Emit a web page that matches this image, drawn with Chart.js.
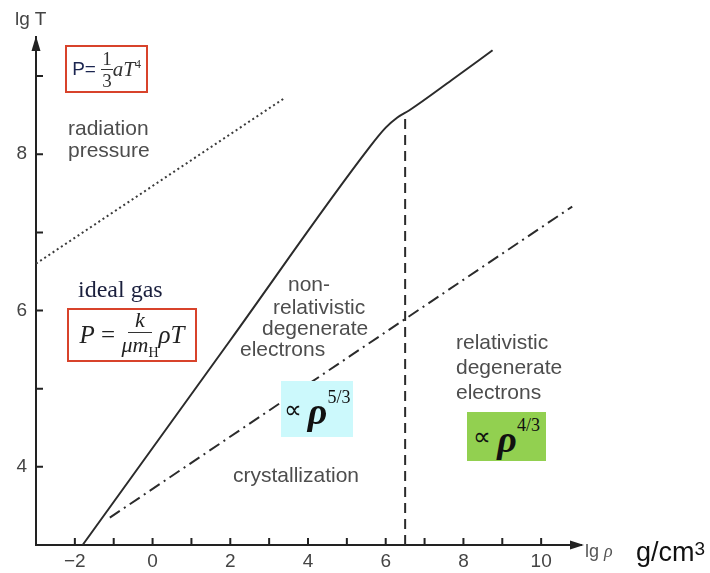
<!DOCTYPE html>
<html><head><meta charset="utf-8">
<script src="https://cdn.jsdelivr.net/npm/chart.js@4/dist/chart.umd.min.js"></script>
<style>
html,body{margin:0;padding:0;background:#fff;}
#wrap{position:relative;width:710px;height:573px;overflow:hidden;background:#fff;}
canvas{position:absolute;left:0;top:0;}
.t{position:absolute;white-space:nowrap;font-family:"Liberation Sans",Arial,sans-serif;color:#4d4d4d;font-size:21px;line-height:22px;}
.serif{font-family:"Liberation Serif","Times New Roman",serif;}
.box{position:absolute;box-sizing:border-box;border:2px solid #d8432b;display:flex;align-items:center;justify-content:center;white-space:nowrap;}
.frac{display:inline-flex;flex-direction:column;align-items:center;vertical-align:middle;line-height:1;}
.frac .num{border-bottom:1px solid #333;padding:0 1px 1px 1px;}
.frac .den{padding-top:1px;}
.fill{position:absolute;display:flex;align-items:center;justify-content:center;white-space:nowrap;font-family:"Liberation Serif","Times New Roman",serif;color:#111;}
</style></head>
<body><div id="wrap"><canvas id="c" width="710" height="573"></canvas>

<div class="t" style="left:15px;top:8px;font-size:19px;color:#444;">lg T</div>

<div class="box" style="left:65px;top:45px;width:83px;height:48px;">
  <span style="font-family:'Liberation Sans',Arial,sans-serif;font-size:19px;color:#1b2550;">P=&nbsp;</span>
  <span class="frac serif" style="font-size:19px;color:#333;"><span class="num" style="padding:0 1px 1px 1px;">1</span><span class="den">3</span></span>
  <span class="serif" style="font-size:21px;font-style:italic;color:#333;">aT<sup style="font-size:12px;font-style:normal;">4</sup></span>
</div>

<div class="t" style="left:68px;top:117px;">radiation<br>pressure</div>

<div class="t serif" style="left:78px;top:276px;font-size:24px;line-height:26px;color:#1a1f3d;">ideal gas</div>

<div class="box" style="left:67px;top:308px;width:130px;height:54px;">
  <span class="serif" style="font-size:25px;color:#222;"><i>P</i>&nbsp;=&nbsp;</span>
  <span class="frac serif" style="font-size:22px;color:#222;"><span class="num" style="padding:0 7px 1px 7px;"><i>k</i></span><span class="den"><i>μm</i><sub style="font-size:14px;">H</sub></span></span>
  <span class="serif" style="font-size:25px;color:#222;"><i>ρT</i></span>
</div>

<div class="t" style="left:288px;top:273px;">non-</div>
<div class="t" style="left:273px;top:296px;">relativistic</div>
<div class="t" style="left:262px;top:317px;">degenerate</div>
<div class="t" style="left:240px;top:338px;">electrons</div>

<div class="fill" style="left:281px;top:381px;width:72px;height:56px;background:#ccf9fc;">
  <span style="font-size:25px;">∝&nbsp;</span><span style="font-size:38px;font-style:italic;font-weight:bold;margin-top:4px;">ρ</span><span style="font-size:18px;align-self:flex-start;margin-top:6px;">5/3</span>
</div>

<div class="t" style="left:233px;top:464px;">crystallization</div>

<div class="t" style="left:456px;top:329px;line-height:25px;">relativistic<br>degenerate<br>electrons</div>

<div class="fill" style="left:467px;top:412px;width:79px;height:49px;background:#92d050;">
  <span style="font-size:25px;">∝&nbsp;</span><span style="font-size:38px;font-style:italic;font-weight:bold;margin-top:4px;">ρ</span><span style="font-size:18px;align-self:flex-start;margin-top:3px;">4/3</span>
</div>

<div class="t" style="left:585px;top:540px;font-size:18px;color:#555;">lg <span class="serif" style="font-style:italic;">ρ</span></div>
<div class="t" style="left:636px;top:535px;font-size:27px;line-height:28px;color:#111;">g/cm<span style="font-size:19px;vertical-align:6px;">3</span></div>
</div>

<script>
// ---- data ----
const xTickValues = [-2, 0, 2, 4, 6, 8, 10];
const xTickLabels = ['\u22122', '0', '2', '4', '6', '8', '10'];
const yTickValues = [4, 6, 8];
const yTickLabels = ['4', '6', '8'];

// solid boundary: ideal gas / degenerate electrons
const solidX = [-1.8, 2.0, 5.6, 6.0, 6.3, 6.6, 7.7, 8.75];
const solidY = [3.0, 5.62, 8.1, 8.34, 8.47, 8.56, 8.95, 9.33];
// dotted boundary: radiation pressure / ideal gas
const dottedX = [-3.0, 3.4];
const dottedY = [6.6, 8.72];
// dash-dot boundary: crystallization
const dashDotX = [-1.1, 10.8];
const dashDotY = [3.35, 7.33];
// dashed vertical: relativistic limit
const dashedX = [6.5, 6.5];
const dashedY = [3.0, 8.53];

const pts = (xs, ys) => xs.map((x, i) => ({x: x, y: ys[i]}));

const axisDeco = {
  id: 'axisDeco',
  afterDraw(chart) {
    const {ctx, chartArea: a, scales: {x, y}} = chart;
    ctx.save();
    ctx.strokeStyle = '#222';
    ctx.fillStyle = '#222';
    ctx.lineWidth = 2;
    ctx.beginPath();
    x.ticks.forEach(t => {
      if (Number.isInteger(t.value) && t.value > x.min && t.value < x.max) {
        const px = x.getPixelForValue(t.value);
        ctx.moveTo(px, a.bottom); ctx.lineTo(px, a.bottom - 7);
      }
    });
    y.ticks.forEach(t => {
      if (Number.isInteger(t.value) && t.value > y.min && t.value < y.max) {
        const py = y.getPixelForValue(t.value);
        ctx.moveTo(a.left, py); ctx.lineTo(a.left + 7, py);
      }
    });
    ctx.moveTo(a.right - 2, a.bottom); ctx.lineTo(a.right + 2, a.bottom);
    ctx.stroke();
    ctx.beginPath();
    ctx.moveTo(a.left, a.top - 1);
    ctx.lineTo(a.left - 4.5, a.top + 14);
    ctx.lineTo(a.left + 4.5, a.top + 14);
    ctx.closePath();
    ctx.fill();
    ctx.beginPath();
    ctx.moveTo(a.right + 4, a.bottom);
    ctx.lineTo(a.right - 10, a.bottom - 4.5);
    ctx.lineTo(a.right - 10, a.bottom + 4.5);
    ctx.closePath();
    ctx.fill();
    ctx.restore();
  }
};

const tickFont = {family: '"Liberation Sans", Arial, sans-serif', size: 19};

new Chart(document.getElementById('c'), {
  type: 'scatter',
  data: {
    datasets: [
      {data: pts(solidX, solidY), showLine: true, borderColor: '#2b2b2b', borderWidth: 2, pointRadius: 0, clip: false, cubicInterpolationMode: 'monotone'},
      {data: pts(dottedX, dottedY), showLine: true, borderColor: '#3a3a3a', borderWidth: 2, borderDash: [2, 3], pointRadius: 0, clip: false},
      {data: pts(dashDotX, dashDotY), showLine: true, borderColor: '#2b2b2b', borderWidth: 2, borderDash: [12, 5, 2, 5], pointRadius: 0, clip: false},
      {data: pts(dashedX, dashedY), showLine: true, borderColor: '#2b2b2b', borderWidth: 2, borderDash: [10, 6], pointRadius: 0, clip: false}
    ]
  },
  options: {
    responsive: false,
    animation: false,
    devicePixelRatio: 1,
    layout: {padding: {top: 37, right: 130, bottom: 0, left: 0}},
    plugins: {legend: {display: false}, tooltip: {enabled: false}},
    scales: {
      x: {
        type: 'linear', min: -3, max: 11,
        grid: {display: false, drawTicks: false},
        border: {display: true, color: '#222', width: 2},
        ticks: {
          stepSize: 1, autoSkip: false, maxRotation: 0, padding: 5,
          color: '#444', font: tickFont,
          callback: v => { const i = xTickValues.indexOf(v); return i >= 0 ? xTickLabels[i] : ''; }
        },
        afterFit: s => { s.height = 28; }
      },
      y: {
        type: 'linear', min: 3, max: 9.5,
        grid: {display: false, drawTicks: false},
        border: {display: true, color: '#222', width: 2},
        ticks: {
          stepSize: 1, autoSkip: false, padding: 9,
          color: '#444', font: tickFont,
          callback: v => { const i = yTickValues.indexOf(v); return i >= 0 ? yTickLabels[i] : ''; }
        },
        afterFit: s => { s.width = 36; }
      }
    }
  },
  plugins: [axisDeco]
});
</script>
</body></html>
